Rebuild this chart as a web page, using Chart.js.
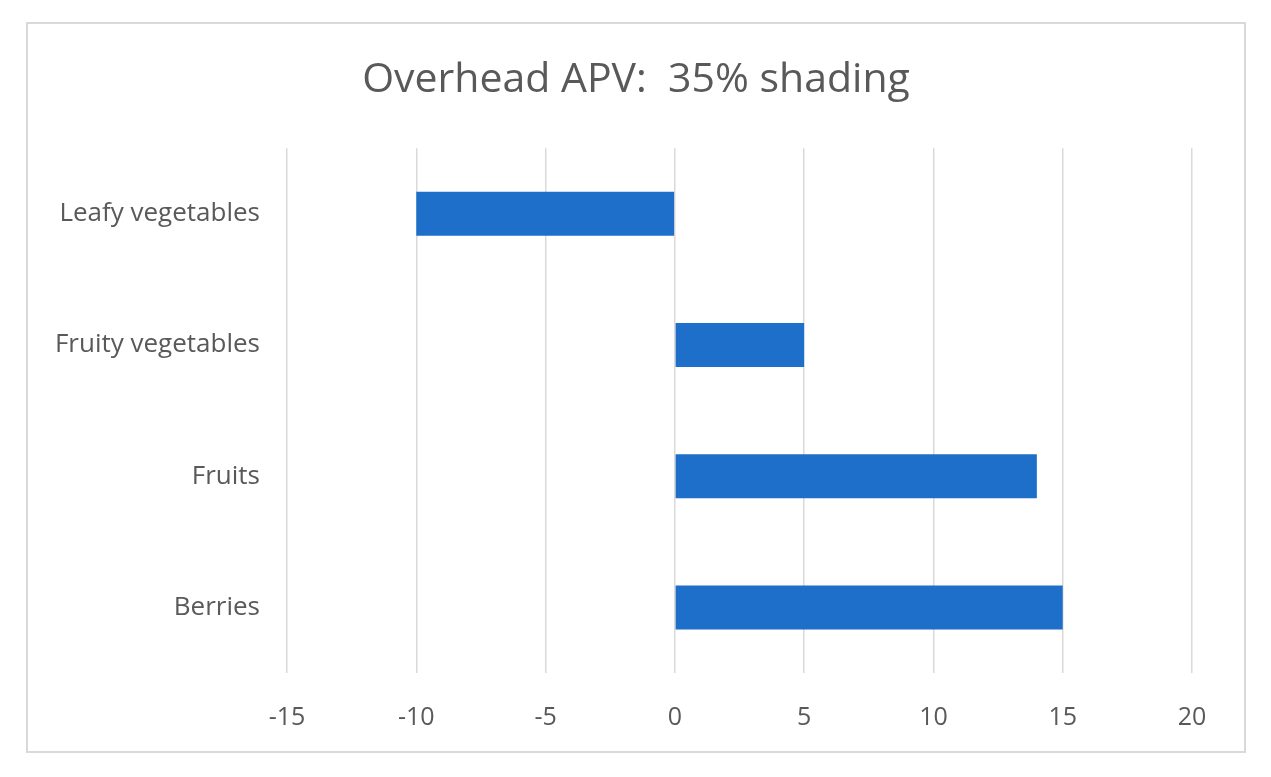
<!DOCTYPE html>
<html>
<head>
<meta charset="utf-8">
<script src="https://cdn.jsdelivr.net/npm/chart.js@4.4.0/dist/chart.umd.min.js"></script>
<style>
  html, body { margin: 0; padding: 0; background: #ffffff; }
  #wrap { position: absolute; left: 0; top: 0; width: 1271px; height: 777px; }
</style>
</head>
<body>
<div id="wrap"><canvas id="c" width="1271" height="777"></canvas></div>
<script>
const titleText = 'Overhead APV:  35% shading';
const categories = ['Leafy vegetables', 'Fruity vegetables', 'Fruits', 'Berries'];
const values = [-10, 5, 14, 15];
const xTicks = [-15, -10, -5, 0, 5, 10, 15, 20];

const frame = {
  id: 'frame',
  afterLayout(chart) {
    if (chart.titleBlock) {
      chart.titleBlock.left = 27;
      chart.titleBlock.right = 1245;
      chart.titleBlock.width = 1218;
    }
  },
  beforeDraw(chart) {
    const ctx = chart.ctx;
    ctx.save();
    ctx.fillStyle = '#ffffff';
    ctx.fillRect(0, 0, chart.width, chart.height);
    ctx.strokeStyle = '#d9d9d9';
    ctx.lineWidth = 2;
    ctx.strokeRect(27, 23, 1218, 729);
    ctx.restore();
  }
};

new Chart(document.getElementById('c'), {
  type: 'bar',
  data: {
    labels: categories,
    datasets: [{
      data: values,
      backgroundColor: '#1d6fc9',
      borderWidth: 0,
      barPercentage: 0.335,
      categoryPercentage: 1.0
    }]
  },
  plugins: [frame],
  options: {
    indexAxis: 'y',
    responsive: false,
    animation: false,
    devicePixelRatio: 1,
    layout: { padding: { left: 30, right: 79, top: 51, bottom: 28 } },
    plugins: {
      legend: { display: false },
      tooltip: { enabled: false },
      title: {
        display: true,
        text: titleText,
        color: '#595959',
        font: { family: 'Open Sans', size: 41, weight: 'normal', lineHeight: 1.2 },
        padding: { top: 5, bottom: 43 }
      }
    },
    scales: {
      x: {
        type: 'linear',
        min: -15,
        max: 20,
        afterBuildTicks(axis) { axis.ticks = xTicks.map(v => ({ value: v })); },
        grid: { color: '#d9d9d9', lineWidth: 1.5, drawTicks: false },
        border: { display: false },
        ticks: {
          color: '#595959',
          font: { family: 'Open Sans', size: 25 },
          padding: 30
        },
        afterFit(axis) { axis.height = 76; }
      },
      y: {
        grid: { display: false },
        border: { display: false },
        ticks: {
          color: '#595959',
          font: { family: 'Open Sans', size: 26 },
          padding: 19
        },
        afterFit(axis) { axis.width = 257; }
      }
    }
  }
});
</script>
</body>
</html>
